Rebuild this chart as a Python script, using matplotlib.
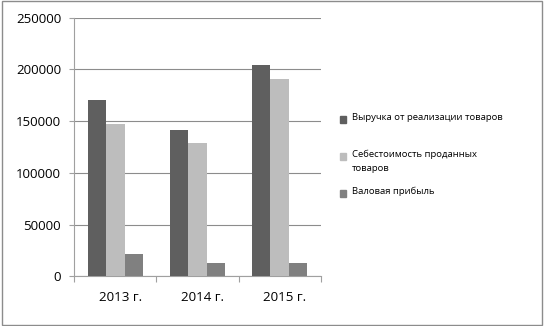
import matplotlib.pyplot as plt
from matplotlib.patches import Rectangle
import numpy as np

plt.rcParams['font.family'] = ['Open Sans', 'DejaVu Sans']

years = ["2013 г.", "2014 г.", "2015 г."]
series_names = [
    "Выручка от реализации товаров",
    "Себестоимость проданных\nтоваров",
    "Валовая прибыль",
]
revenue = [170000, 141000, 204000]
cost = [147000, 129000, 191000]
profit = [22000, 12500, 12500]
colors = ["#5f5f5f", "#bdbdbd", "#808080"]

fig = plt.figure(figsize=(5.44, 3.26), dpi=100)
ax = fig.add_axes([0.1366, 0.1525, 0.4529, 0.7938])

x = np.arange(len(years))
w = 0.223
for i, vals in enumerate([revenue, cost, profit]):
    ax.bar(x + (i - 1) * w, vals, width=w, color=colors[i], zorder=3)

ax.set_xlim(-0.5, len(years) - 0.5)
ax.set_ylim(0, 250000)
ax.set_yticks(np.arange(0, 250001, 50000))
ax.set_xticks(x + 0.06)
ax.set_xticklabels(years)
ax.set_xticks(np.arange(-0.5, len(years), 1), minor=True)
ax.tick_params(axis='x', which='major', length=0, pad=10.5, labelsize=9.6, colors='black')
ax.tick_params(axis='x', which='minor', length=4, color='#a0a0a0', width=0.8)
ax.tick_params(axis='y', length=3.5, color='#a0a0a0', width=0.8, pad=6, labelsize=9.5)
ax.yaxis.grid(True, color='#8c8c8c', linewidth=0.8, zorder=0)

for side in ['top', 'right']:
    ax.spines[side].set_visible(False)
for side in ['left', 'bottom']:
    ax.spines[side].set_color('#a0a0a0')
    ax.spines[side].set_linewidth(0.8)

# legend, placed by hand
leg_y = [119, 156, 193]
for name, col, yp in zip(series_names, colors, leg_y):
    fy = 1 - yp / 326
    fig.patches.append(Rectangle((340 / 544, fy - 3.5 / 326), 6 / 544, 7 / 326,
                                 transform=fig.transFigure, color=col))
    fig.text(352 / 544, fy + 6 / 326, name, fontsize=6.8, va='top', ha='left',
             linespacing=1.7)

# outer border
fig.patches.append(Rectangle((0.003, 0.004), 0.994, 0.992, transform=fig.transFigure,
                             fill=False, edgecolor='#8c8c8c', linewidth=1))

fig.savefig("out.png", dpi=100)
